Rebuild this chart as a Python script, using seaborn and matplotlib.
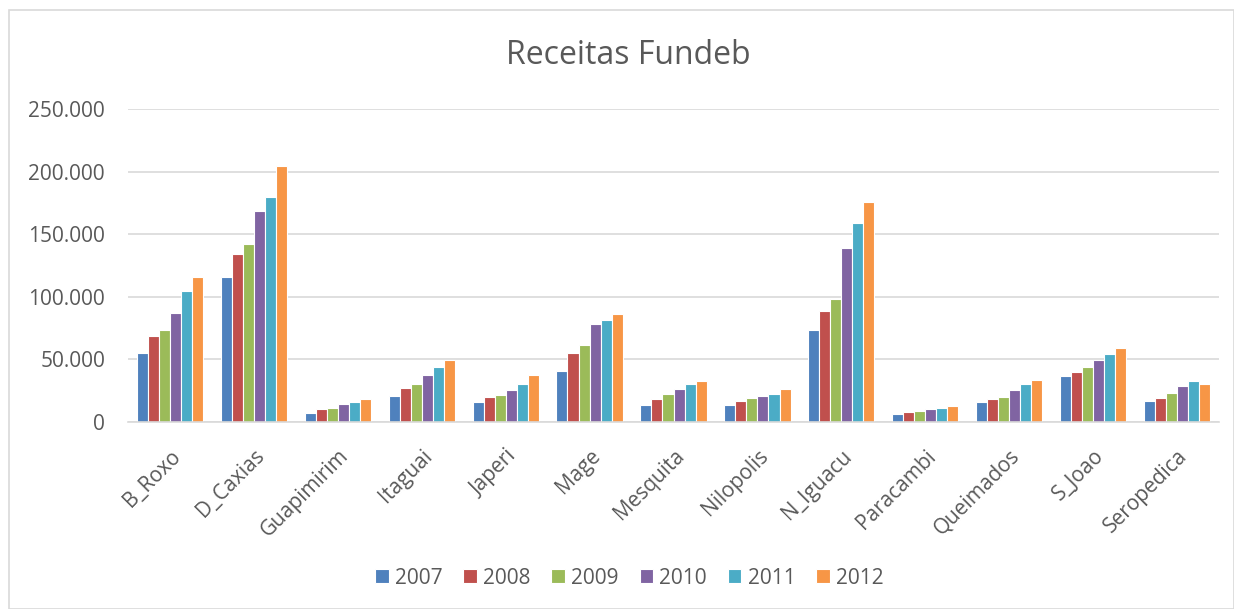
import matplotlib
matplotlib.use("Agg")
import matplotlib.pyplot as plt
import matplotlib.ticker as mticker
from matplotlib.patches import Rectangle
import seaborn as sns
import pandas as pd

municipios = ["B_Roxo", "D_Caxias", "Guapimirim", "Itaguai", "Japeri", "Mage",
              "Mesquita", "Nilopolis", "N_Iguacu", "Paracambi", "Queimados",
              "S_Joao", "Seropedica"]
anos = ["2007", "2008", "2009", "2010", "2011", "2012"]

v2007 = [55000, 115700, 7500, 20800, 16300, 40500, 13600, 13300, 73300, 6700, 16000, 37100, 16800]
v2008 = [68800, 133900, 10100, 26900, 19700, 54900, 18400, 17100, 88300, 8000, 18400, 40300, 19200]
v2009 = [73300, 141900, 11500, 30700, 21600, 61600, 22100, 18900, 98100, 8800, 19700, 44300, 22900]
v2010 = [86700, 168300, 14100, 37600, 25900, 77900, 26100, 20500, 138700, 10100, 25600, 49600, 28500]
v2011 = [104800, 179700, 16000, 43700, 30100, 81300, 30700, 22700, 158700, 11500, 30400, 54100, 32500]
v2012 = [115700, 204500, 18700, 49600, 37900, 86100, 32500, 26100, 176000, 12500, 33600, 58900, 30100]

cores = ["#4F81BD", "#C0504D", "#9BBB59", "#8064A2", "#4BACC6", "#F79646"]

series = [v2007, v2008, v2009, v2010, v2011, v2012]
rows = []
for ano, vals in zip(anos, series):
    for m, v in zip(municipios, vals):
        rows.append({"Municipio": m, "Ano": ano, "Valor": v})
df = pd.DataFrame(rows)

sns.set_theme(style="white")
plt.rcParams["font.family"] = ["Open Sans", "DejaVu Sans"]
txt = "#595959"

fig = plt.figure(figsize=(12.34, 6.09), dpi=100)
ax = fig.add_axes([128/1234, 1-422/609, (1219-128)/1234, (422-109)/609])

sns.barplot(data=df, x="Municipio", y="Valor", hue="Ano", palette=cores,
            order=municipios, hue_order=anos, width=0.79, ax=ax,
            edgecolor="white", linewidth=0.8, saturation=1, errorbar=None)

ax.set_ylim(0, 250000)
ax.set_yticks([0, 50000, 100000, 150000, 200000, 250000])
ax.yaxis.set_major_formatter(mticker.FuncFormatter(
    lambda v, p: "0" if v == 0 else f"{int(v):,}".replace(",", ".")))
ax.yaxis.grid(True, color="#d9d9d9", linewidth=1.2)
ax.set_axisbelow(True)
for s in ["top", "right", "left"]:
    ax.spines[s].set_visible(False)
ax.spines["bottom"].set_color("#d9d9d9")
ax.spines["bottom"].set_linewidth(1.2)
ax.set_xlabel("")
ax.set_ylabel("")
ax.tick_params(axis="y", length=0, pad=16.5, labelsize=15, labelcolor=txt)
ax.tick_params(axis="x", length=0, pad=17, labelsize=15, labelcolor=txt)
plt.setp(ax.get_xticklabels(), rotation=45, ha="right", rotation_mode="anchor")

fig.text(0.509, 1-55/609, "Receitas Fundeb", ha="center", va="center",
         fontsize=23, color=txt)

handles, labels = ax.get_legend_handles_labels()
ax.legend_.remove()
fig.legend(handles, labels, loc="center", bbox_to_anchor=(0.51, 1-578/609),
           ncol=6, frameon=False, fontsize=15, labelcolor=txt,
           handlelength=0.65, handleheight=0.65, handletextpad=0.3,
           columnspacing=1.0)

fig.patches.append(Rectangle((9/1234, 0), 1 - 9/1234, 1 - 10/609,
                             transform=fig.transFigure, fill=False,
                             edgecolor="#d9d9d9", linewidth=1.2))

fig.savefig("out.png", dpi=100, facecolor="white")
